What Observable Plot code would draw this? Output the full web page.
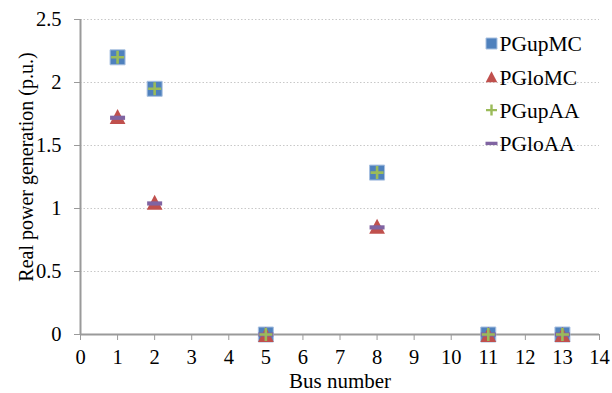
<!DOCTYPE html>
<html>
<head>
<meta charset="utf-8">
<script src="https://cdn.jsdelivr.net/npm/d3@7"></script>
<script src="https://cdn.jsdelivr.net/npm/@observablehq/plot@0.6"></script>
<style>
  html, body { margin: 0; padding: 0; background: #fff; }
  #chart svg { display: block; }
</style>
</head>
<body>
<div id="chart"></div>
<script>
const buses = [1, 2, 5, 8, 11, 13];
const pgUpMC = [2.2, 1.95, 0, 1.285, 0, 0];
const pgLoMC = [1.73, 1.05, 0, 0.86, 0, 0];
const pgUpAA = [2.2, 1.95, 0, 1.285, 0, 0];
const pgLoAA = [1.72, 1.04, 0, 0.85, 0, 0];
const seriesNames = ["PGupMC", "PGloMC", "PGupAA", "PGloAA"];
const xTicks = [0, 1, 2, 3, 4, 5, 6, 7, 8, 9, 10, 11, 12, 13, 14];
const yTicks = [0, 0.5, 1, 1.5, 2, 2.5];
const yTickLabels = ["0", "0.5", "1", "1.5", "2", "2.5"];
const xTitle = "Bus number";
const yTitle = "Real power generation (p.u.)";

const colors = {PGupMC: "#4F81BD", PGloMC: "#C0504D", PGupAA: "#9BBB59", PGloAA: "#8064A2"};

// custom symbols (half-size = r, derived from Plot's size = π r²)
const half = size => Math.sqrt(size / Math.PI);
const sqSym = {draw(c, s) { const r = half(s); c.rect(-r, -r, 2 * r, 2 * r); }};
const triSym = {draw(c, s) { const r = half(s); c.moveTo(0, -r); c.lineTo(r * 1.05, r); c.lineTo(-r * 1.05, r); c.closePath(); }};
const plusSym = {draw(c, s) { const r = half(s), w = Math.max(1.2, r * 0.2); c.rect(-w, -r, 2 * w, 2 * r); c.rect(-r, -w, 2 * r, 2 * w); }};
const dashSym = {draw(c, s) { const r = half(s), w = Math.max(1.2, r * 0.28); c.rect(-r, -w, 2 * r, 2 * w); }};

const rows = (vals) => buses.map((b, i) => ({bus: b, v: vals[i]}));

const legendItems = [
  {name: "PGupMC", sym: sqSym, r: 5.5, stroke: "#a8c0e0"},
  {name: "PGloMC", sym: triSym, r: 5.5, stroke: "none"},
  {name: "PGupAA", sym: plusSym, r: 5.5, stroke: "none"},
  {name: "PGloAA", sym: dashSym, r: 6, stroke: "none"}
];

const legendMarks = legendItems.flatMap((it, i) => [
  Plot.dot([it], {frameAnchor: "top-left", dx: 411, dy: 24 + i * 33.3, symbol: it.sym, r: it.r,
    fill: colors[it.name], stroke: it.stroke, strokeWidth: 1}),
  Plot.text([it], {frameAnchor: "top-left", dx: 419, dy: 25 + i * 33.3, text: d => d.name,
    textAnchor: "start", lineAnchor: "middle", fill: "black", fontSize: 21.5})
]);

const chart = Plot.plot({
  width: 612,
  height: 393,
  marginLeft: 80,
  marginRight: 13,
  marginTop: 19,
  marginBottom: 59,
  style: {fontFamily: "'Liberation Serif', 'Times New Roman', serif", fontSize: "20.5px", color: "black", background: "white"},
  x: {domain: [0, 14]},
  y: {domain: [0, 2.5]},
  marks: [
    Plot.gridY(yTicks.slice(1), {stroke: "#c8c8c8", strokeOpacity: 1, strokeDasharray: "1.5,2"}),
    Plot.axisX({ticks: xTicks, tickSize: 6, tickPadding: 9, stroke: "#9a9a9a", fill: "black",
      label: null, fontSize: 20.5}),
    Plot.axisY({ticks: yTicks, tickFormat: (d, i) => yTickLabels[yTicks.indexOf(d)], tickSize: 6, tickPadding: 13,
      stroke: "#9a9a9a", fill: "black", label: null, fontSize: 20.5}),
    Plot.text([xTitle], {frameAnchor: "bottom", dy: 47, text: d => d, fontSize: 21, fill: "black",
      textAnchor: "middle", lineAnchor: "middle"}),
    Plot.text([yTitle], {frameAnchor: "left", dx: -54, dy: -10, rotate: -90, text: d => d, fontSize: 20, fill: "black",
      textAnchor: "middle", lineAnchor: "middle"}),
    Plot.ruleY([0], {stroke: "#9a9a9a", strokeWidth: 2}),
    Plot.ruleX([0], {stroke: "#9a9a9a", strokeWidth: 2}),
    Plot.dot(rows(pgUpMC), {x: "bus", y: "v", symbol: sqSym, r: 7.5, fill: colors.PGupMC, stroke: "#a8c0e0", strokeWidth: 1}),
    Plot.dot(rows(pgLoMC), {x: "bus", y: "v", symbol: triSym, r: 7.5, fill: colors.PGloMC}),
    Plot.dot(rows(pgLoAA), {x: "bus", y: "v", symbol: dashSym, r: 7.5, fill: colors.PGloAA}),
    Plot.dot(rows(pgUpAA), {x: "bus", y: "v", symbol: plusSym, r: 6.5, fill: colors.PGupAA}),
    ...legendMarks
  ]
});
document.getElementById("chart").appendChild(chart);
</script>
</body>
</html>
